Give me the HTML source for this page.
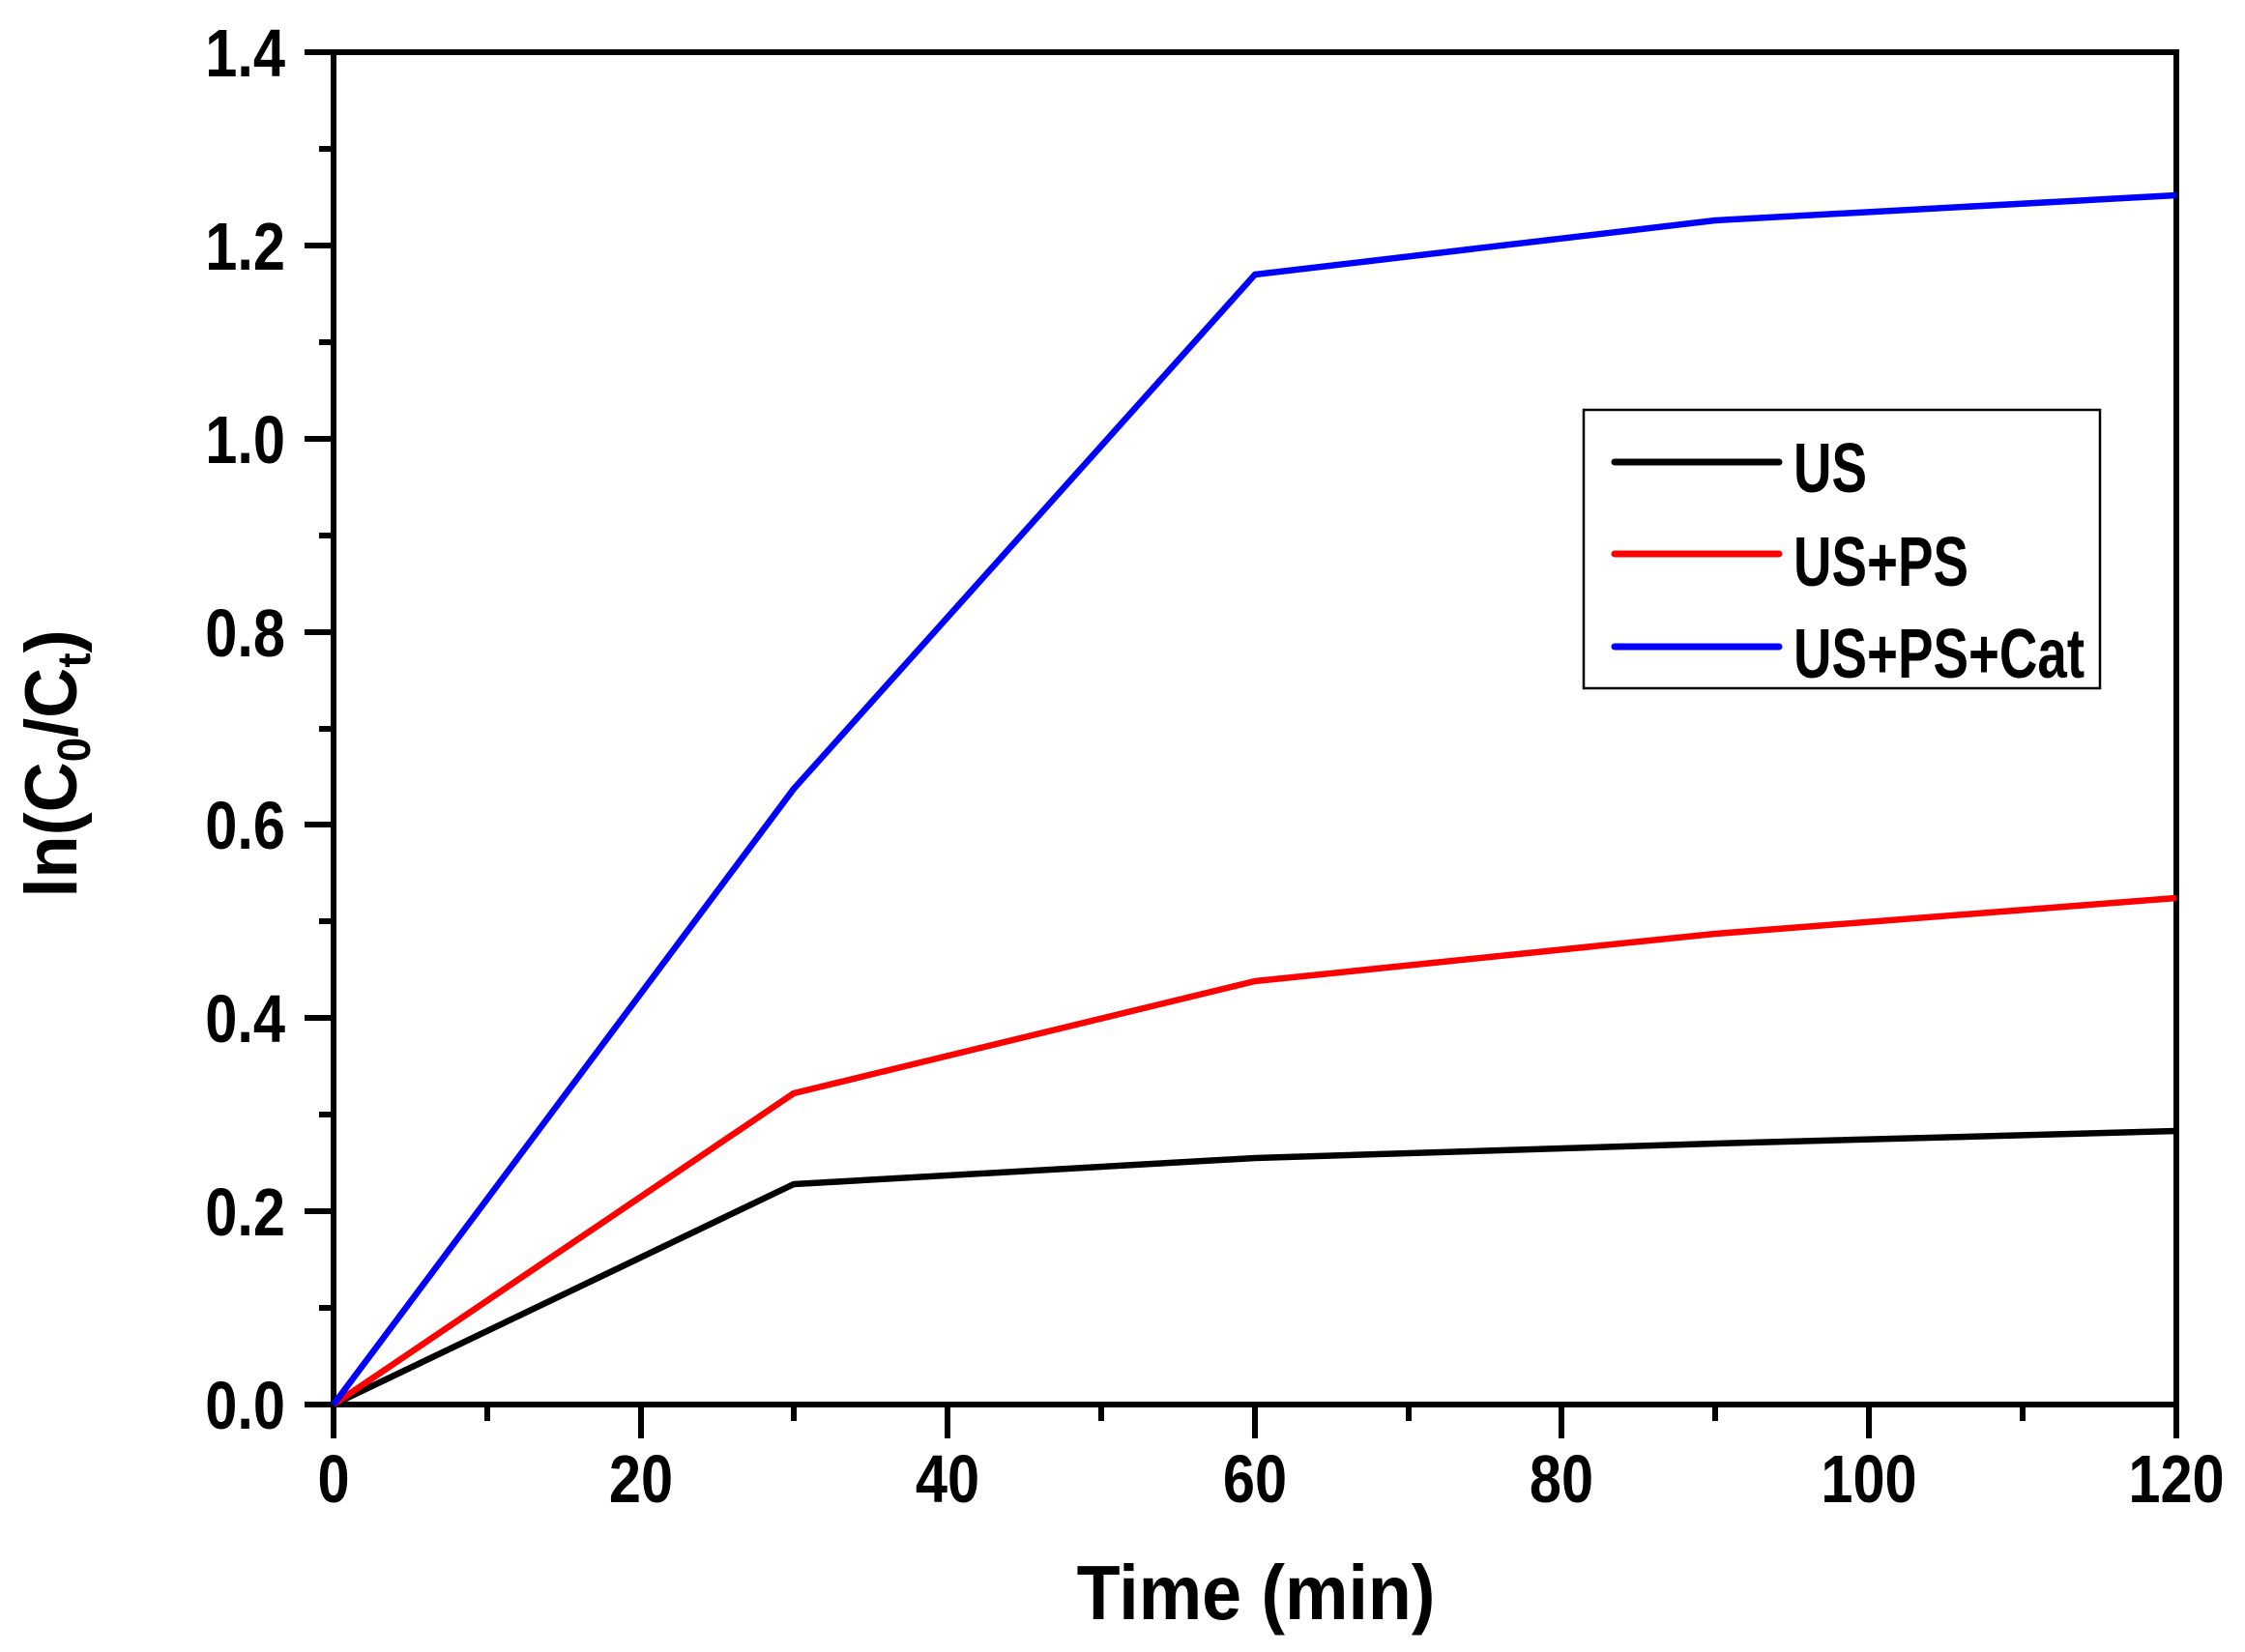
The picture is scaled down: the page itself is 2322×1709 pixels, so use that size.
<!DOCTYPE html>
<html><head><meta charset="utf-8"><style>body{margin:0;background:#fff}svg{display:block}text{font-family:"Liberation Sans",Arial,sans-serif;font-weight:bold;fill:#000}</style></head>
<body>
<svg width="2322" height="1709" viewBox="0 0 2322 1709" xmlns="http://www.w3.org/2000/svg">
<rect width="2322" height="1709" fill="#fff"/>
<g stroke="#000" stroke-width="6">
<line x1="315" y1="54" x2="345" y2="54"/><line x1="330" y1="154" x2="345" y2="154"/>
<line x1="315" y1="254" x2="345" y2="254"/><line x1="330" y1="354" x2="345" y2="354"/>
<line x1="315" y1="454" x2="345" y2="454"/><line x1="330" y1="554" x2="345" y2="554"/>
<line x1="315" y1="654" x2="345" y2="654"/><line x1="330" y1="754" x2="345" y2="754"/>
<line x1="315" y1="853" x2="345" y2="853"/><line x1="330" y1="953" x2="345" y2="953"/>
<line x1="315" y1="1053" x2="345" y2="1053"/><line x1="330" y1="1153" x2="345" y2="1153"/>
<line x1="315" y1="1253" x2="345" y2="1253"/><line x1="330" y1="1353" x2="345" y2="1353"/>
<line x1="315" y1="1453" x2="345" y2="1453"/>
<line x1="345" y1="1453" x2="345" y2="1488"/><line x1="504" y1="1453" x2="504" y2="1470"/>
<line x1="663" y1="1453" x2="663" y2="1488"/><line x1="821" y1="1453" x2="821" y2="1470"/>
<line x1="980" y1="1453" x2="980" y2="1488"/><line x1="1139" y1="1453" x2="1139" y2="1470"/>
<line x1="1298" y1="1453" x2="1298" y2="1488"/><line x1="1457" y1="1453" x2="1457" y2="1470"/>
<line x1="1615" y1="1453" x2="1615" y2="1488"/><line x1="1774" y1="1453" x2="1774" y2="1470"/>
<line x1="1933" y1="1453" x2="1933" y2="1488"/><line x1="2092" y1="1453" x2="2092" y2="1470"/>
<line x1="2251" y1="1453" x2="2251" y2="1488"/>
</g>
<rect x="345" y="54" width="1906" height="1399" fill="none" stroke="#000" stroke-width="6"/>
<g fill="none" stroke-width="6.5" stroke-linejoin="round">
<polyline stroke="#000" points="345,1453 821,1225 1298,1198 1774,1183 2251,1170"/>
<polyline stroke="#ff0000" points="345,1453 821,1131 1298,1015 1774,966 2251,929"/>
<polyline stroke="#0000ff" points="345,1453 821,816 1298,284 1774,228 2251,202"/>
</g>
<rect x="1638" y="424" width="534" height="288" fill="#fff" stroke="#000" stroke-width="2.5"/>
<g stroke-width="7" stroke-linecap="round">
<line x1="1670" y1="478" x2="1840" y2="478" stroke="#000"/>
<line x1="1670" y1="573" x2="1840" y2="573" stroke="#ff0000"/>
<line x1="1670" y1="669" x2="1840" y2="669" stroke="#0000ff"/>
</g>
<g font-size="72">
<text transform="translate(1855,509) scale(0.76,1)">US</text>
<text transform="translate(1855,606) scale(0.76,1)">US+PS</text>
<text transform="translate(1855,701) scale(0.76,1)">US+PS+Cat</text>
</g>
<g font-size="70" text-anchor="end">
<text transform="translate(295,79) scale(0.85,1)">1.4</text><text transform="translate(295,279) scale(0.85,1)">1.2</text>
<text transform="translate(295,479) scale(0.85,1)">1.0</text><text transform="translate(295,679) scale(0.85,1)">0.8</text>
<text transform="translate(295,878) scale(0.85,1)">0.6</text><text transform="translate(295,1078) scale(0.85,1)">0.4</text>
<text transform="translate(295,1278) scale(0.85,1)">0.2</text><text transform="translate(295,1478) scale(0.85,1)">0.0</text>
</g>
<g font-size="70" text-anchor="middle">
<text transform="translate(345,1554) scale(0.85,1)">0</text><text transform="translate(663,1554) scale(0.85,1)">20</text>
<text transform="translate(980,1554) scale(0.85,1)">40</text><text transform="translate(1298,1554) scale(0.85,1)">60</text>
<text transform="translate(1615,1554) scale(0.85,1)">80</text><text transform="translate(1933,1554) scale(0.85,1)">100</text>
<text transform="translate(2251,1554) scale(0.85,1)">120</text>
</g>
<text transform="translate(1299,1675) scale(0.92,1)" font-size="80" text-anchor="middle">Time (min)</text>
<text transform="translate(79,790) rotate(-90) scale(0.95,1)" font-size="76" text-anchor="middle">ln(C<tspan font-size="48" dy="14">0</tspan><tspan dy="-14">/C</tspan><tspan font-size="48" dy="14">t</tspan><tspan dy="-14">)</tspan></text>
</svg>
</body></html>
